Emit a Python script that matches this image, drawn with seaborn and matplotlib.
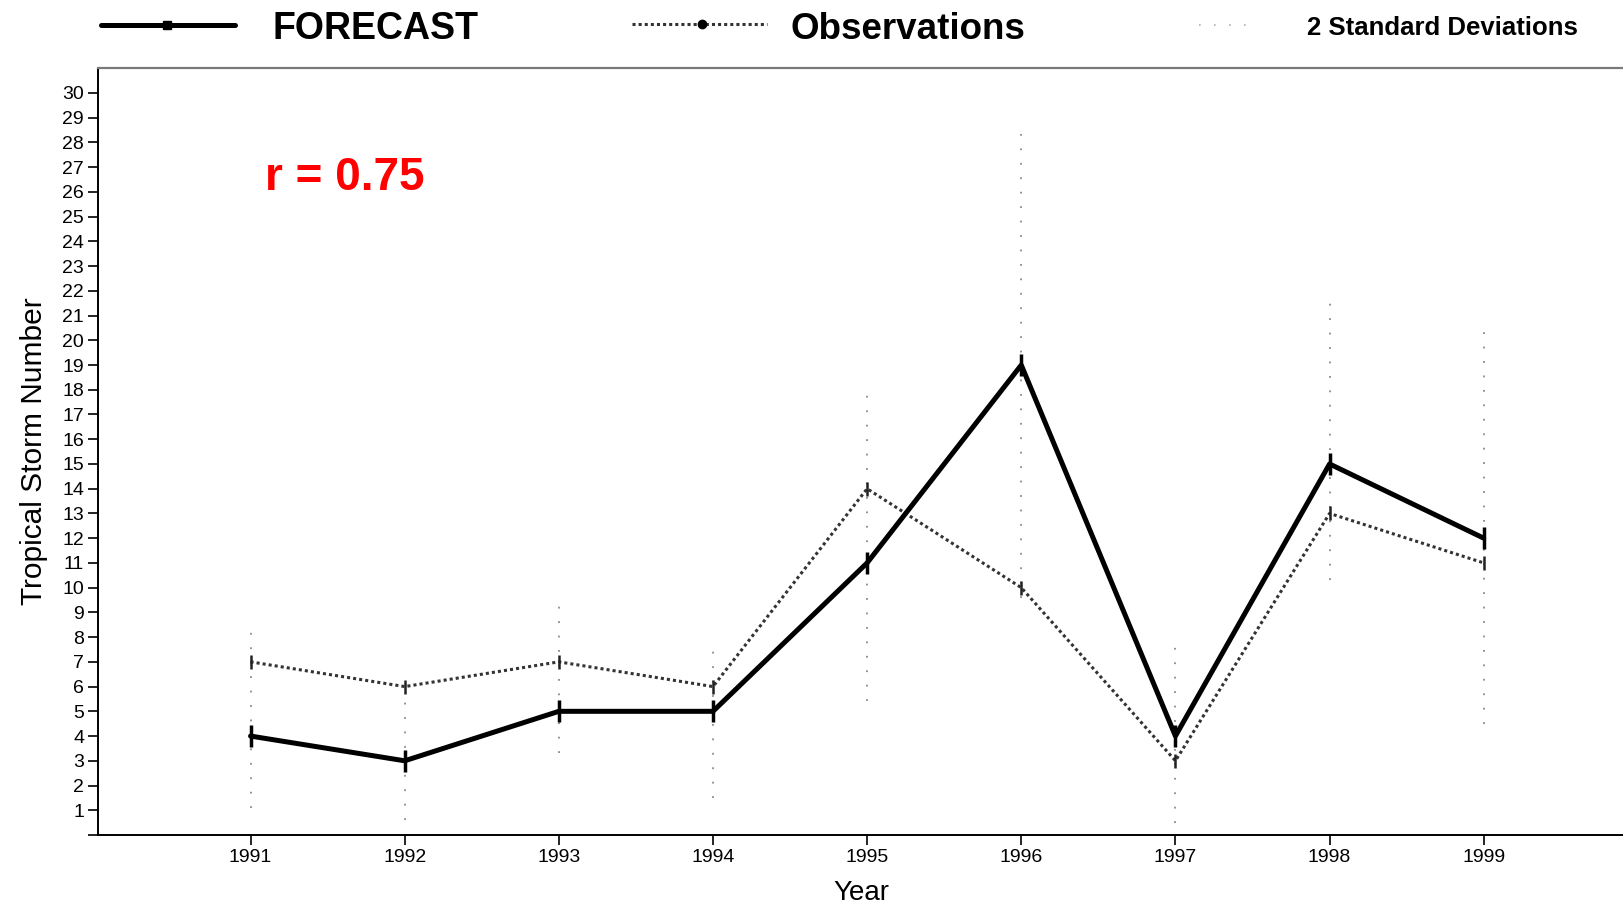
import matplotlib
matplotlib.use("Agg")
import matplotlib.pyplot as plt
from matplotlib.lines import Line2D
import seaborn as sns
import pandas as pd

years = [1991, 1992, 1993, 1994, 1995, 1996, 1997, 1998, 1999]
forecast = [4, 3, 5, 5, 11, 19, 4, 15, 12]
observations = [7, 6, 7, 6, 14, 10, 3, 13, 11]
sd_low = [1.1, 0.6, 3.3, 1.5, 5.4, 9.6, 0.5, 10.3, 4.5]
sd_high = [8.6, 5.6, 9.3, 7.7, 18.1, 28.5, 8.0, 21.7, 20.5]
ytick_labels = [""] + [str(i) for i in range(1, 31)]

df = pd.DataFrame({"Year": years, "Forecast": forecast, "Observations": observations})

sns.set_theme(style="white")
plt.rcParams["font.family"] = ["Liberation Sans", "DejaVu Sans"]
plt.rcParams["text.color"] = "black"
plt.rcParams["axes.labelcolor"] = "black"
plt.rcParams["xtick.color"] = "black"
plt.rcParams["ytick.color"] = "black"

fig = plt.figure(figsize=(16.24, 9.09), dpi=100)
ax = fig.add_axes([0.0603, 0.0814, 0.9397, 0.8436])

# 2 standard deviation ranges (faint dotted)
ax.vlines(years, sd_low, sd_high, colors="#8a8a8a", linestyles=(0, (1, 7)), linewidth=1.3, zorder=1)

sns.lineplot(data=df, x="Year", y="Observations", ax=ax, color="#333333",
             linewidth=2.2, linestyle=(0, (1, 1)), marker="|", markersize=10,
             markeredgewidth=1.8, markeredgecolor="#222222", zorder=2)
sns.lineplot(data=df, x="Year", y="Forecast", ax=ax, color="black",
             linewidth=3.6, marker="|", markersize=16, markeredgewidth=2.5,
             markeredgecolor="black", zorder=3)

ax.set_xlim(1990.01, 1999.91)
ax.set_ylim(0, 31)
ax.set_xticks(years)
ax.set_xticklabels([str(y) for y in years], fontsize=14)
ax.set_yticks(range(0, 31))
ax.set_yticklabels(ytick_labels, fontsize=14)
ax.tick_params(axis="both", direction="out", length=7, width=1.2, color="black",
               left=True, bottom=True, pad=3)
ax.set_xlabel("Year", fontsize=20, labelpad=10)
ax.set_ylabel("Tropical Storm Number", fontsize=21.5, labelpad=10)

for side in ["left", "bottom"]:
    ax.spines[side].set_color("black")
    ax.spines[side].set_linewidth(1.4)
ax.spines["top"].set_color("#7a7a7a")
ax.spines["top"].set_linewidth(1.6)
ax.spines["right"].set_visible(False)

ax.annotate("r = 0.75", xy=(0.163, 0.804), xycoords="figure fraction",
            fontsize=33, fontweight="bold", color="#ff0000", ha="left", va="center")

# legend above plot
fig.add_artist(Line2D([0.062, 0.145], [0.972, 0.972], color="black", lw=3.6))
fig.add_artist(Line2D([0.103], [0.972], color="black", marker="s", ms=6, lw=0))
fig.text(0.168, 0.968, "FORECAST", fontsize=27, fontweight="bold", va="center", ha="left")
fig.add_artist(Line2D([0.389, 0.472], [0.974, 0.974], color="#333333", lw=2.2,
                      linestyle=(0, (1, 1))))
fig.add_artist(Line2D([0.432], [0.974], color="black", marker="o", ms=6, lw=0))
fig.text(0.487, 0.968, "Observations", fontsize=26.5, fontweight="bold", va="center", ha="left")
fig.add_artist(Line2D([0.738, 0.772], [0.972, 0.972], color="#b0b0b0", lw=1.2,
                      linestyle=(0, (1, 8))))
fig.text(0.805, 0.969, "2 Standard Deviations", fontsize=18.5, fontweight="bold", va="center", ha="left")

fig.savefig("out.png", dpi=100)
